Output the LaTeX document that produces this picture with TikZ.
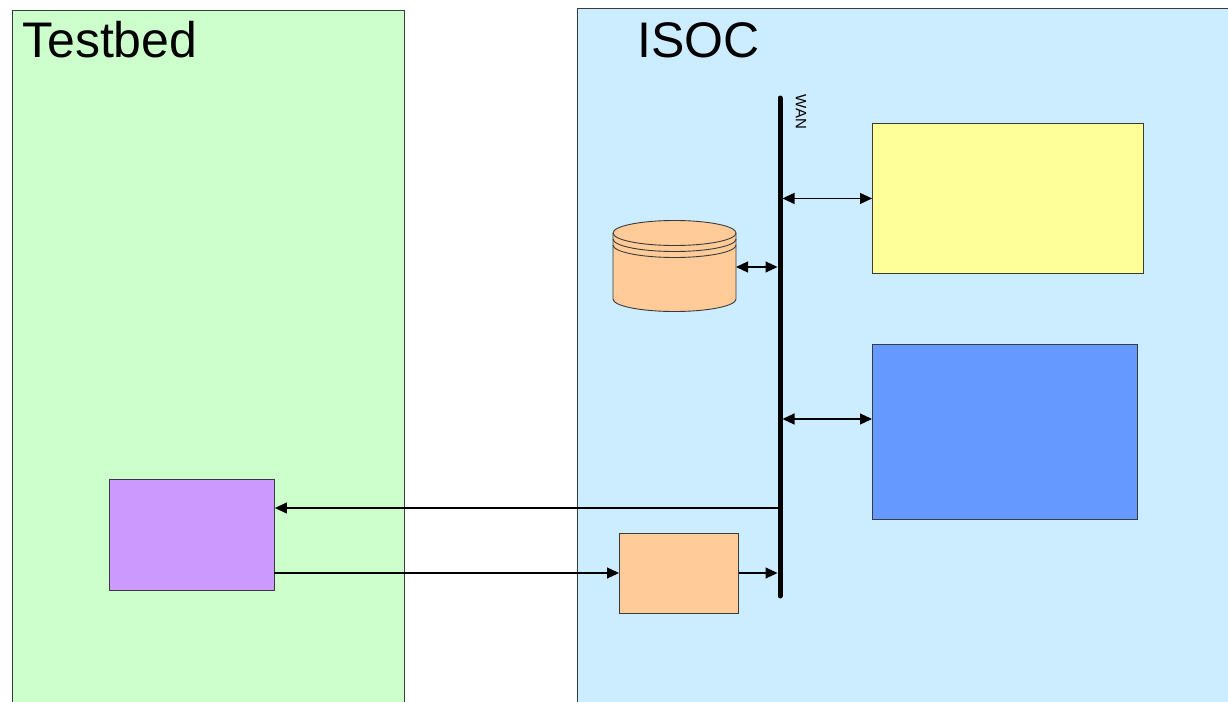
\documentclass[tikz,border=0pt]{standalone}
\usepackage{fontspec}
\setmainfont{Liberation Sans}
\usetikzlibrary{arrows.meta}
\definecolor{tbgreen}{HTML}{CCFFCC}
\definecolor{isocblue}{HTML}{CCECFF}
\definecolor{boxyellow}{HTML}{FFFF99}
\definecolor{boxblue}{HTML}{6699FF}
\definecolor{boxorange}{HTML}{FFCC99}
\definecolor{boxpurple}{HTML}{CC99FF}
\definecolor{edge}{HTML}{3A3A3A}
\begin{document}
\begin{tikzpicture}[x=1pt,y=-1pt,
  panel/.style={draw=edge,line width=0.8pt},
  blockbox/.style={draw=edge,line width=0.9pt,rectangle,inner sep=0pt,anchor=north west},
  conn/.style={line width=1.1pt,-{Triangle[length=12pt,width=11pt]}},
  dconn/.style={line width=1.1pt,{Triangle[length=12pt,width=11pt]}-{Triangle[length=12pt,width=11pt]}},
  title/.style={font=\fontsize{50}{54}\selectfont,inner sep=0pt,anchor=base west}]
\useasboundingbox (0,0) rectangle (1228,701);
\begin{scope}
\clip (0,0) rectangle (1228,701);
\fill[tbgreen] (12,10) rectangle (404,710);
\draw[panel] (12,710) -- (12,10) -- (404,10) -- (404,710);
\fill[isocblue] (577,8) rectangle (1240,710);
\draw[panel] (577,710) -- (577,8) -- (1240,8);
\end{scope}
\node[title] (tbtitle) at (22,57) {Testbed};
\node[title] (isoctitle) at (637,57) {ISOC};
% WAN bus
\coordinate (busTop) at (780,98);
\coordinate (busBot) at (780,596);
\draw[line width=5pt,line cap=round] (busTop) -- (busBot);
\node[font=\fontsize{15}{16}\selectfont,rotate=-90,inner sep=0pt] (wan) at (801,112) {WAN};
% boxes
\node[blockbox,fill=boxyellow,minimum width=271pt,minimum height=150pt] (yellow) at (872,123) {};
\node[blockbox,fill=boxblue,minimum width=265pt,minimum height=175pt] (blue) at (872,344) {};
\node[blockbox,fill=boxpurple,minimum width=165pt,minimum height=111pt] (purple) at (109,479) {};
\node[blockbox,fill=boxorange,minimum width=119pt,minimum height=80pt] (orange) at (619,533) {};
% cylinder
\coordinate (cylE) at (736,267);
\filldraw[fill=boxorange,draw=edge,line width=0.9pt]
  (613,233) -- (613,299) arc[start angle=180,end angle=0,x radius=61.5,y radius=12.5]
  -- (736,233) arc[start angle=360,end angle=180,x radius=61.5,y radius=12.5] -- cycle;
\draw[edge,line width=0.9pt] (613,233) arc[start angle=180,end angle=0,x radius=61.5,y radius=12.5];
\draw[edge,line width=0.9pt] (613,239) arc[start angle=180,end angle=0,x radius=61.5,y radius=12.5];
\draw[edge,line width=0.9pt] (613,245) arc[start angle=180,end angle=0,x radius=61.5,y radius=12.5];
% connectors
\draw[dconn] ([xshift=2.5pt]busTop |- yellow.west) -- (yellow.west);
\draw[dconn] (cylE) -- ([xshift=-2.5pt]busTop |- cylE);
\coordinate (blueIn) at (872,419);
\draw[dconn] ([xshift=2.5pt]busTop |- blueIn) -- (blueIn);
\coordinate (busout) at (778,508);
\draw[conn] (busout) -- (purple.east |- busout);
\coordinate (purout) at (274,573);
\draw[conn] (purout) -- (orange.west |- purout);
\draw[conn] (orange.east |- purout) -- ([xshift=-2.5pt]busTop |- purout);
\end{tikzpicture}
\end{document}
